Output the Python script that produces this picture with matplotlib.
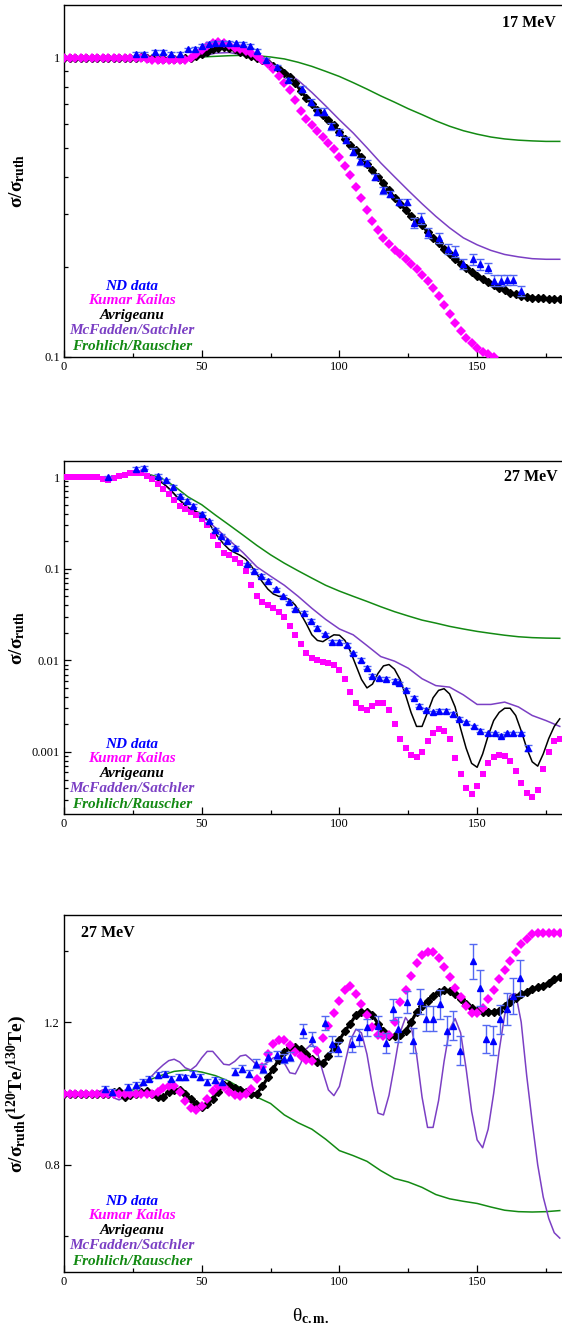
import numpy as np
import matplotlib
matplotlib.use("Agg")
import matplotlib.pyplot as plt
from matplotlib.ticker import FixedLocator, MultipleLocator, LogLocator, FuncFormatter, NullFormatter
from matplotlib.transforms import offset_copy

plt.rcParams["font.family"] = ["Liberation Serif", "DejaVu Serif"]
plt.rcParams["mathtext.fontset"] = "custom"
plt.rcParams["mathtext.rm"] = "Liberation Serif"
plt.rcParams["mathtext.it"] = "Liberation Serif:italic"
plt.rcParams["mathtext.bf"] = "Liberation Serif:bold"

# ---------------- panel 1: 17 MeV ----------------
p1_theta_dat = [26, 29, 33, 36, 39, 42, 45, 47.5, 50, 52.5, 55, 57.5, 60, 62.5, 65, 67.5, 70, 73.5,
                77.5, 81.5, 86.5, 89.5, 92, 94.5, 97, 100, 102.5, 105, 107.5, 110, 113, 116, 118.5,
                121.5, 124.5, 127, 129.5, 132, 136, 139.5, 142, 145, 148.5, 151, 154, 156, 158.5,
                161, 163, 166]
p1_nd = [1.03, 1.03, 1.045, 1.045, 1.025, 1.03, 1.065, 1.07, 1.09, 1.11, 1.12, 1.12, 1.12, 1.115,
         1.11, 1.09, 1.05, 0.985, 0.93, 0.84, 0.785, 0.71, 0.66, 0.66, 0.59, 0.565, 0.53, 0.485,
         0.45, 0.445, 0.40, 0.36, 0.35, 0.33, 0.33, 0.28, 0.29, 0.26, 0.25, 0.23, 0.225, 0.205,
         0.212, 0.204, 0.198, 0.18, 0.18, 0.181, 0.181, 0.166]
p1_nd_rel = [0.015] * 20 + [0.025] * 15 + [0.04] * 15

p1_kumar = [1.0] * 13 + [
    1.0, 1.0, 0.99, 0.985, 0.98, 0.98, 0.98, 0.98,
    0.98, 0.985, 1.0, 1.025, 1.06, 1.095, 1.12, 1.125, 1.115, 1.1,
    1.08, 1.065, 1.05, 1.035, 1.01, 0.985, 0.955, 0.915, 0.87, 0.825,
    0.78, 0.72, 0.665, 0.625, 0.595, 0.57, 0.545, 0.52, 0.495, 0.465,
    0.435, 0.405, 0.37, 0.34, 0.31, 0.285, 0.265, 0.25, 0.238, 0.228,
    0.22, 0.212, 0.204, 0.196, 0.188, 0.179, 0.17, 0.16, 0.149, 0.139,
    0.13, 0.122, 0.116, 0.111, 0.107, 0.104, 0.102, 0.1]
p1_avr = [1.0] * 11 + [
    1.0, 0.995, 1.0, 1.005, 1.0, 0.995, 0.99, 0.99, 0.99, 0.99,
    0.99, 0.995, 1.0, 1.01, 1.025, 1.045, 1.065, 1.08, 1.085, 1.08,
    1.065, 1.045, 1.025, 1.01, 0.995, 0.98, 0.96, 0.94, 0.915, 0.89,
    0.86, 0.82, 0.775, 0.735, 0.70, 0.67, 0.645, 0.62, 0.595, 0.565,
    0.535, 0.51, 0.49, 0.465, 0.44, 0.42, 0.40, 0.38, 0.36, 0.34,
    0.325, 0.31, 0.295, 0.285, 0.275, 0.262, 0.25, 0.24, 0.23, 0.22,
    0.212, 0.205, 0.198, 0.192, 0.187, 0.182, 0.178, 0.174, 0.17, 0.167,
    0.164, 0.162, 0.16, 0.159, 0.158, 0.157, 0.157, 0.156, 0.156, 0.156]
p1_mcf = [1.0, 1.0, 1.0, 1.0, 1.0, 1.0, 1.005, 0.995, 0.99, 0.995, 1.01, 1.035, 1.04, 1.02,
          0.99, 0.955, 0.905, 0.84, 0.765, 0.69, 0.62, 0.56, 0.50, 0.445, 0.40, 0.36, 0.325,
          0.295, 0.27, 0.25, 0.237, 0.227, 0.22, 0.216, 0.213, 0.212, 0.212]
p1_fro = [1.0] * 10 + [1.005, 1.01, 1.015, 1.018, 1.015, 1.005, 0.99, 0.965, 0.935, 0.90, 0.865,
                       0.825, 0.785, 0.745, 0.71, 0.675, 0.645, 0.615, 0.59, 0.57, 0.555, 0.543,
                       0.535, 0.53, 0.527, 0.525, 0.525]

# ---------------- panel 2: 27 MeV ----------------
p2_theta_dat = [16, 26, 29, 34, 37, 39.5, 42, 44.7, 47, 50, 52.6, 55, 57, 59, 62, 66.4, 69, 71.7, 74,
                77, 79.6, 81.6, 84, 87, 89.5, 92, 94.7, 97.4, 100, 102.6, 105, 108, 110, 112,
                114.5, 117, 120, 121.7, 124.3, 127, 129, 131.6, 134, 136, 138.8, 141.4, 143.4,
                146, 148.7, 151, 154, 156.6, 158.6, 161, 163, 166, 168.4]
p2_nd = [1.0, 1.23, 1.27, 1.04, 0.92, 0.78, 0.63, 0.555, 0.49, 0.40, 0.33, 0.265, 0.23, 0.2, 0.17,
         0.112, 0.095, 0.084, 0.074, 0.06, 0.05, 0.043, 0.036, 0.033, 0.027, 0.0226, 0.0193,
         0.016, 0.016, 0.0147, 0.012, 0.0101, 0.0083, 0.0068, 0.0064, 0.0063, 0.006, 0.0056,
         0.0048, 0.0039, 0.0032, 0.0029, 0.0027, 0.0028, 0.0028, 0.0026, 0.0023, 0.0021, 0.0019,
         0.0017, 0.0016, 0.0016, 0.0015, 0.0016, 0.0016, 0.0016, 0.0011]
p2_nd_rel = [0.04] * 56 + [0.08]

p2_kumar = [
    1.0, 1.0, 1.0, 1.0, 1.0, 1.0, 1.01, 0.96, 0.93, 0.97,
    1.02, 1.06, 1.1, 1.12, 1.1, 1.04, 0.95, 0.85, 0.75, 0.65,
    0.56, 0.49, 0.45, 0.42, 0.39, 0.35, 0.3, 0.23, 0.18, 0.15,
    0.14, 0.128, 0.115, 0.095, 0.067, 0.05, 0.043, 0.04, 0.037, 0.034,
    0.03, 0.024, 0.019, 0.015, 0.012, 0.0105, 0.0101, 0.0097, 0.0094, 0.0088,
    0.0079, 0.0063, 0.0045, 0.0034, 0.003, 0.0029, 0.0032, 0.0034, 0.0034, 0.0029,
    0.002, 0.0014, 0.0011, 0.00092, 0.00089, 0.001, 0.0013, 0.0016, 0.0018, 0.0017,
    0.0014, 0.00085, 0.00058, 0.0004, 0.00035, 0.00042, 0.00058, 0.00075, 0.00088, 0.00093,
    0.0009, 0.0008, 0.00062, 0.00046, 0.00036, 0.00032, 0.00038, 0.00065, 0.001, 0.0013,
    0.0014]
p2_avr = [
    1.0, 1.0, 1.0, 1.0, 1.0, 1.0, 1.01, 0.98, 0.95, 0.97,
    1.02, 1.05, 1.08, 1.1, 1.1, 1.07, 1.0, 0.93, 0.85, 0.76,
    0.66, 0.56, 0.49, 0.45, 0.42, 0.40, 0.34, 0.27, 0.22, 0.186,
    0.162, 0.15, 0.14, 0.127, 0.107, 0.088, 0.072, 0.06, 0.053, 0.05,
    0.049, 0.046, 0.04, 0.032, 0.025, 0.019, 0.0165, 0.016, 0.0175, 0.019,
    0.0188, 0.0165, 0.0125, 0.0088, 0.0062, 0.005, 0.0055, 0.0072, 0.0087, 0.009,
    0.008, 0.0062, 0.0042, 0.0027, 0.0019, 0.0019, 0.0027, 0.0039, 0.0047, 0.0049,
    0.0043, 0.0031, 0.0018, 0.0011, 0.00075, 0.00068, 0.00095, 0.0015, 0.0022, 0.0027,
    0.003, 0.003, 0.0025, 0.0017, 0.0011, 0.00078, 0.0007, 0.00095, 0.0014, 0.0019,
    0.0023]
p2_mcf = [1.0, 1.0, 1.01, 0.96, 1.03, 1.1, 1.1, 0.93, 0.65, 0.47, 0.38, 0.28, 0.205, 0.15, 0.105,
          0.083, 0.066, 0.05, 0.037, 0.028, 0.022, 0.019, 0.0145, 0.011, 0.0098, 0.0082, 0.0063,
          0.0053, 0.0051, 0.0042, 0.0033, 0.0033, 0.0035, 0.0031, 0.0025, 0.0022, 0.0019]
p2_fro = [1.0, 1.0, 1.0, 0.97, 1.02, 1.07, 1.09, 0.99, 0.80, 0.61, 0.50, 0.385, 0.30, 0.233, 0.18,
          0.142, 0.115, 0.095, 0.079, 0.066, 0.057, 0.050, 0.044, 0.0385, 0.034, 0.0305, 0.0275,
          0.0255, 0.0235, 0.022, 0.0207, 0.0197, 0.0188, 0.0181, 0.0177, 0.0175, 0.0174]

# ---------------- panel 3: 27 MeV ratio 120Te/130Te ----------------
p3_theta_dat = [15, 17.6, 23.4, 26, 28.6, 31, 34, 36.5, 39, 41.7, 44, 47, 49.5, 52, 54.7, 57.3, 62,
                64.5, 67, 69.7, 72.3, 74, 77.5, 80, 82, 86.9, 89.9, 94.7, 97.2, 99.6, 104.4, 107,
                109.9, 114, 117, 119.5, 121.3, 124.4, 126.8, 129.2, 131.6, 134, 136.5, 138.9,
                141.3, 143.7, 148.6, 151, 153.4, 155.8, 158.3, 160.7, 163.1, 165.5]
p3_nd = [1.012, 1.005, 1.019, 1.024, 1.033, 1.042, 1.052, 1.056, 1.042, 1.047, 1.045, 1.056, 1.047,
         1.033, 1.038, 1.033, 1.061, 1.07, 1.056, 1.084, 1.07, 1.103, 1.108, 1.098, 1.103, 1.176,
         1.153, 1.197, 1.139, 1.125, 1.139, 1.157, 1.185, 1.19, 1.142, 1.236, 1.18, 1.256, 1.148,
         1.259, 1.21, 1.21, 1.25, 1.176, 1.19, 1.12, 1.37, 1.296, 1.153, 1.148, 1.208, 1.236,
         1.273, 1.324]
p3_nd_err = [0.008] * 16 + [0.01, 0.01, 0.01, 0.012, 0.012, 0.012, 0.012, 0.012, 0.012,
                            0.02, 0.02, 0.02, 0.022, 0.02, 0.022, 0.025, 0.025, 0.028, 0.028,
                            0.03, 0.035, 0.03, 0.035, 0.035, 0.035, 0.035, 0.04, 0.04, 0.04,
                            0.04, 0.05, 0.05, 0.04, 0.04, 0.04, 0.045, 0.05, 0.05]

p3_kumar = [1.0] * 15 + [
    1.0, 1.0, 1.005, 1.015, 1.02,
    1.02, 1.005, 0.98, 0.96, 0.953, 0.965, 0.985, 1.008, 1.02, 1.018,
    1.005, 0.995, 0.993, 1.0, 1.012, 1.042, 1.075, 1.11, 1.14, 1.15,
    1.15, 1.135, 1.115, 1.105, 1.095, 1.092, 1.12, 1.155, 1.19, 1.225,
    1.26, 1.29, 1.302, 1.28, 1.252, 1.22, 1.187, 1.163, 1.16, 1.165,
    1.2, 1.255, 1.29, 1.33, 1.365, 1.387, 1.395, 1.395, 1.38, 1.355,
    1.325, 1.295, 1.27, 1.245, 1.225, 1.225, 1.24, 1.265, 1.29, 1.32,
    1.346, 1.372, 1.397, 1.418, 1.434, 1.446, 1.45, 1.451, 1.451, 1.451,
    1.451]
p3_avr = [1.0] * 9 + [
    1.005,
    1.008, 0.99, 0.995, 1.0, 1.005, 1.006, 1.0, 0.99, 0.99, 1.005,
    1.01, 1.01, 1.0, 0.985, 0.97, 0.962, 0.97, 0.985, 1.005, 1.025,
    1.025, 1.015, 1.01, 1.005, 1.0, 1.0, 1.02, 1.045, 1.07, 1.095,
    1.115, 1.13, 1.13, 1.125, 1.11, 1.098, 1.088, 1.085, 1.105, 1.13,
    1.15, 1.175, 1.196, 1.22, 1.228, 1.228, 1.22, 1.195, 1.175, 1.16,
    1.16, 1.165, 1.175, 1.2, 1.228, 1.245, 1.26, 1.272, 1.285, 1.29,
    1.288, 1.28, 1.265, 1.25, 1.24, 1.232, 1.229, 1.229, 1.229, 1.232,
    1.245, 1.255, 1.268, 1.278, 1.285, 1.292, 1.298, 1.302, 1.31, 1.32,
    1.325]
p3_mcf = [
    1.0, 1.0, 1.0, 1.0, 1.0, 1.0, 1.003, 1.01, 1.008, 0.988,
    0.982, 0.99, 1.0, 1.008, 1.02, 1.035, 1.05, 1.066, 1.08, 1.092,
    1.096, 1.088, 1.072, 1.066, 1.078, 1.1, 1.118, 1.118, 1.1, 1.082,
    1.08, 1.09, 1.105, 1.108, 1.095, 1.08, 1.078, 1.088, 1.1, 1.102,
    1.085, 1.058, 1.055, 1.085, 1.125, 1.14, 1.115, 1.06, 1.01, 0.994,
    1.02, 1.085, 1.15, 1.18, 1.17, 1.11, 1.02, 0.945, 0.94, 0.995,
    1.08, 1.17, 1.213, 1.19, 1.11, 0.99, 0.905, 0.905, 0.98, 1.09,
    1.18, 1.21, 1.17, 1.07, 0.95, 0.87, 0.848, 0.9, 1.0, 1.12,
    1.22, 1.275, 1.28, 1.2, 1.05, 0.92, 0.8, 0.71, 0.65, 0.61,
    0.595]
p3_fro = [1.0, 1.0, 1.0, 1.008, 0.992, 1.01, 1.035, 1.05, 1.062, 1.066, 1.06, 1.05, 1.034, 1.012,
          0.99, 0.972, 0.94, 0.918, 0.9, 0.872, 0.84, 0.826, 0.81, 0.784, 0.762, 0.752, 0.737,
          0.717, 0.705, 0.698, 0.692, 0.682, 0.673, 0.669, 0.668, 0.669, 0.672]

th2 = np.arange(0, 181, 2)      # 2 degree grid of the calculations
th5 = np.arange(0, 181, 5)      # 5 degree grid of the smooth calculations

BLUE = "#0000ff"
BAR = "#5468f2"
MAG = "#ff00ff"
PURP = "#7b3fc4"
GREEN = "#138a13"

legend_names = ["ND data", "Kumar Kailas", "Avrigeanu", "McFadden/Satchler", "Frohlich/Rauscher"]
legend_colors = [BLUE, MAG, "black", PURP, GREEN]
legend_px = [70, 56, 41, 26, 10]

fig = plt.figure(figsize=(5.62, 13.29), dpi=100)
# right frame lies just outside the picture, as in the original
ax1 = fig.add_axes([0.1139, 0.7314, 0.8968, 0.2649])
ax2 = fig.add_axes([0.1139, 0.3875, 0.8968, 0.2656])
ax3 = fig.add_axes([0.1139, 0.0429, 0.8968, 0.2686])


def style(ax):
    ax.set_xlim(0, 183)
    ax.xaxis.set_major_locator(MultipleLocator(50))
    ax.xaxis.set_minor_locator(MultipleLocator(25))
    ax.xaxis.set_major_formatter(FuncFormatter(lambda v, _: f"{v:g}"))
    ax.tick_params(which="both", direction="in", top=False, right=False, labelsize=9,
                   width=0.9)
    ax.tick_params(which="major", length=5, pad=3)
    ax.tick_params(which="minor", length=3)
    for s in ax.spines.values():
        s.set_linewidth(1.0)
    tr = ax.transAxes
    for name, c, py in zip(legend_names, legend_colors, legend_px):
        ax.text(0.1345, 0, name, color=c, fontsize=11, fontweight="bold", fontstyle="italic",
                ha="center", va="center",
                transform=offset_copy(tr, fig=fig, x=0, y=py, units="dots"))


def log_style(ax, lo, hi, majors):
    ax.set_yscale("log")
    ax.set_ylim(lo, hi)
    ax.yaxis.set_major_locator(FixedLocator(majors))
    ax.yaxis.set_major_formatter(FuncFormatter(lambda v, _: f"{v:g}"))
    ax.yaxis.set_minor_locator(LogLocator(base=10, subs=np.arange(2, 10) * 0.1 * 10, numticks=20))
    ax.yaxis.set_minor_formatter(NullFormatter())


def draw(ax, fro, mcf, avr, kumar, th_k, tdat, nd, err, avr_line, kmark, ksize):
    ax.plot(th5, fro, color=GREEN, lw=1.1, zorder=2)
    if len(mcf) == len(th5):
        ax.plot(th5, mcf, color=PURP, lw=1.1, zorder=2)
    else:
        ax.plot(th2, mcf, color=PURP, lw=1.1, zorder=2)
    if avr_line:
        ax.plot(th2, avr, color="black", lw=1.1, zorder=3)
    else:
        ax.plot(th2, avr, color="black", lw=2.2, zorder=3)
        ax.plot(th2, avr, ls="none", marker="D", ms=4.2, color="black", zorder=3)
    ax.plot(th_k, kumar, ls="none", marker=kmark, ms=ksize, color=MAG, mew=0, zorder=4)
    ax.errorbar(tdat, nd, yerr=err, fmt="^", ms=4, color=BLUE, ecolor=BAR, elinewidth=1.0,
                capsize=3, capthick=1.0, zorder=5)


# panel 1
draw(ax1, p1_fro, p1_mcf, p1_avr, p1_kumar, np.arange(0, 157, 2), p1_theta_dat, p1_nd,
     np.array(p1_nd) * np.array(p1_nd_rel), False, "D", 5.0)
style(ax1)
log_style(ax1, 0.1, 1.5, [0.1, 1])
ax1.text(0.975, 0.949, "17 MeV", transform=ax1.transAxes, ha="right", va="center",
         fontsize=11.5, fontweight="bold")

# panel 2
draw(ax2, p2_fro, p2_mcf, p2_avr, p2_kumar, th2, p2_theta_dat, p2_nd,
     np.array(p2_nd) * np.array(p2_nd_rel), True, "s", 4.2)
style(ax2)
log_style(ax2, 2.1e-4, 1.5, [0.001, 0.01, 0.1, 1])
ax2.text(0.98, 0.955, "27 MeV", transform=ax2.transAxes, ha="right", va="center",
         fontsize=11.5, fontweight="bold")

# panel 3
draw(ax3, p3_fro, p3_mcf, p3_avr, p3_kumar, th2, p3_theta_dat, p3_nd, p3_nd_err,
     False, "D", 5.0)
style(ax3)
ax3.set_ylim(0.5, 1.5)
ax3.yaxis.set_major_locator(MultipleLocator(0.4))
ax3.yaxis.set_minor_locator(MultipleLocator(0.2))
ax3.yaxis.set_major_formatter(FuncFormatter(lambda v, _: f"{v:g}"))
ax3.text(0.033, 0.95, "27 MeV", transform=ax3.transAxes, ha="left", va="center",
         fontsize=11.5, fontweight="bold")

for ax in (ax1, ax2):
    ax.set_ylabel(r"$\mathbf{\sigma/\sigma_{ruth}}$", fontsize=14)
    ax.yaxis.set_label_coords(-0.073, 0.5)
ax3.set_ylabel(r"$\mathbf{\sigma/\sigma_{ruth}(^{120}Te/^{130}Te)}$", fontsize=14)
ax3.yaxis.set_label_coords(-0.069, 0.5)
ax3.set_xlabel(r"$\mathrm{\theta}_{\mathbf{c.m.}}$", fontsize=14)
ax3.xaxis.set_label_coords(0.49, -0.095)

fig.savefig("out.png", dpi=100)
